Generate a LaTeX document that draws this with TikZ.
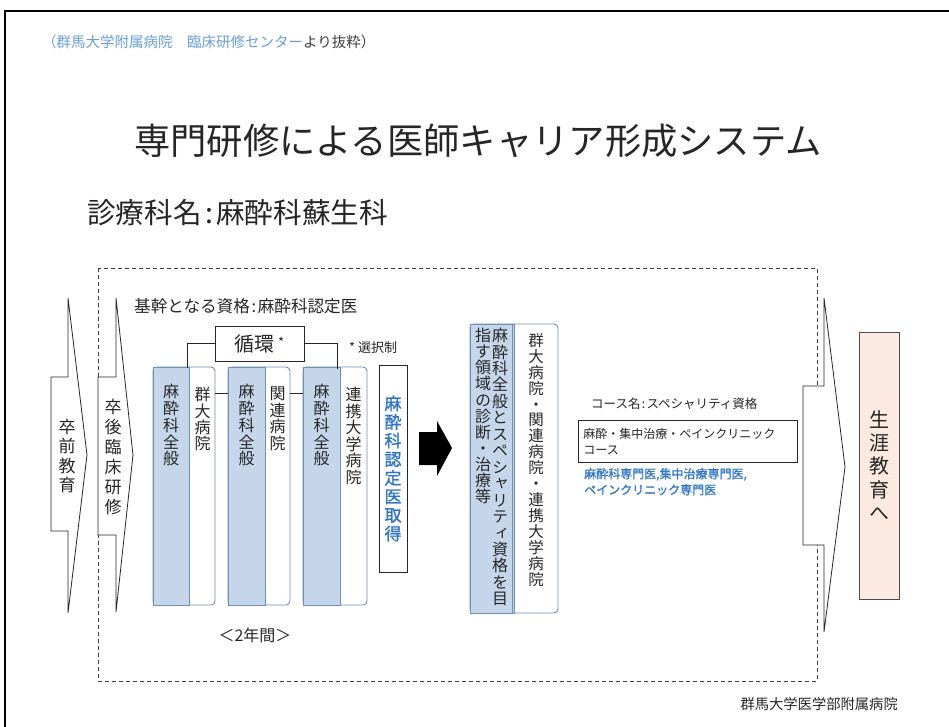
\documentclass[tikz,border=0pt]{standalone}
\usepackage{fontspec}
\setmainfont{Noto Sans CJK JP}
\newfontfamily\vfont{Noto Sans CJK JP}[RawFeature=+vert]
\newfontfamily\vbfont{Noto Sans CJK JP}[RawFeature=+vert,FakeBold=1.2]
\newfontfamily\bfam{Noto Sans CJK JP}[FakeBold=1.0]
\usetikzlibrary{calc}
\definecolor{bfill}{HTML}{C5D6EA}
\definecolor{bline}{HTML}{6F8FB8}
\definecolor{tblue}{HTML}{2E75C4}
\definecolor{nblue}{HTML}{6A9FD8}
\definecolor{peach}{HTML}{FCE9DF}
\definecolor{dgray}{HTML}{404040}
\lineskiplimit=-100pt
\newcommand\vsz[2]{\vfont\fontsize{#1}{#2}\selectfont}
\newcommand\hsz[2]{\fontsize{#1}{#2}\selectfont}
\tikzset{
  vt/.style={align=center, inner sep=0pt, anchor=north, text=black!85},
  shaft/.style={draw=black!85, fill=white, line width=0.8pt, line join=miter},
  grp/.style={draw=bline, fill=white, rounded corners=4pt, inner sep=0pt, minimum height=238, line width=0.9pt},
  bcol/.style={draw=bline, fill=bfill, inner sep=0pt, anchor=west, line width=0.9pt},
  conn/.style={draw=black!85, line width=0.9pt},
  plain/.style={inner sep=0pt, text=black!85},
}
\begin{document}
\begin{tikzpicture}[x=1pt,y=-1pt]
\useasboundingbox (0,0) rectangle (949,727);
\fill[white] (0,0) rectangle (949,727);
% outer frame
\draw[line width=2pt, black] (5,727) -- (5,11) -- (949,11);
% top note
\node[plain, anchor=west, font=\hsz{14.5}{16}] (note) at (42,42)
  {\textcolor{nblue}{（群馬大学附属病院　臨床研修センター}\textcolor{dgray}{より抜粋）}};
% title
\node[plain, font=\hsz{36.3}{40}] (title) at (478,141) {専門研修による医師キャリア形成システム};
\node[plain, anchor=west, font=\hsz{28.6}{30}] (dept) at (87,213) {診療科名\hspace{0.12em}:\hspace{0.12em}麻酔科蘇生科};
% dashed frame
\draw[dgray, line width=0.9pt, dash pattern=on 4pt off 3pt] (98,268) rectangle (817,681);
% left arrows
\draw[shaft] (51,377) -- (68,377) -- (68,298) -- (87,455) -- (68,613) -- (68,531) -- (51,531) -- cycle;
\node[vt, anchor=center, font=\vsz{17}{19.5}] (pre) at (67,456) {卒\\前\\教\\育};
\draw[shaft] (98,377) -- (116,377) -- (116,298) -- (133,455) -- (116,612) -- (116,535) -- (98,535) -- cycle;
\node[vt, anchor=center, font=\vsz{17}{20}] (post) at (113,457) {卒\\後\\臨\\床\\研\\修};
% right arrow
\draw[shaft] (803,386) -- (824,386) -- (824,298) -- (845,467) -- (824,632) -- (824,545) -- (803,545) -- cycle;
% lifelong box
\node[draw=black!70, fill=peach, line width=0.9pt, minimum width=40, minimum height=267, inner sep=0pt,
      align=center, font=\vsz{20}{23.4}, text=black!85] (life) at (879,465.5) {生\\涯\\教\\育\\へ};
% base qualification
\node[plain, anchor=west, font=\hsz{16.6}{18}] (base) at (134,306) {基幹となる資格\hspace{0.1em}:\hspace{0.1em}麻酔科認定医};
% rotation groups
\node[grp, minimum width=62] (g1) at (184,486) {};
\node[bcol, minimum width=36, minimum height=238] (b1) at (g1.west) {};
\node[grp, minimum width=62] (g2) at (259,486) {};
\node[bcol, minimum width=37, minimum height=238] (b2) at (g2.west) {};
\node[grp, minimum width=64] (g3) at (335,486) {};
\node[bcol, minimum width=37, minimum height=238] (b3) at (g3.west) {};
\node[vt, font=\vsz{16}{16.8}] (t1a) at (171,384) {麻\\酔\\科\\全\\般};
\node[vt, font=\vsz{16}{16.4}] (t1b) at (202.5,387) {群\\大\\病\\院};
\node[vt, font=\vsz{16}{16.8}] (t2a) at (246.5,384) {麻\\酔\\科\\全\\般};
\node[vt, font=\vsz{16}{16.4}] (t2b) at (277.5,387) {関\\連\\病\\院};
\node[vt, font=\vsz{16}{16.8}] (t3a) at (321.5,384) {麻\\酔\\科\\全\\般};
\node[vt, font=\vsz{16}{16.5}] (t3b) at (353.5,387) {連\\携\\大\\学\\病\\院};
% loop box
\node[draw=black!85, fill=white, line width=0.9pt, minimum width=89, minimum height=35, inner sep=0pt,
      font=\hsz{20}{22}, text=black!85] (loop) at (259.5,343.5) {循環\,{\hsz{13}{13}\raisebox{4pt}{*}}};
\coordinate (c1) at (187,368);
\coordinate (c3) at (337,369);
\coordinate (row) at (0,393);
\draw[conn] (loop.west) -| (c1);
\draw[conn] (loop.east) -| (c3);
\draw[conn] (g1.east |- row) -- (g2.west |- row);
\draw[conn] (g2.east |- row) -- (g3.west |- row);
\node[plain, anchor=west, font=\hsz{13}{15}] (sel) at (349,348) {* 選択制};
\node[plain, font=\hsz{16}{18}] (yrs) at (255,635) {＜2年間＞};
% certification box
\node[draw=black!85, fill=white, line width=0.9pt, minimum width=28, minimum height=207, inner sep=0pt,
      align=center, font=\vbfont\fontsize{17}{18.6}\selectfont, text=tblue] (cert) at (393,468.5) {麻\\酔\\科\\認\\定\\医\\取\\得};
% big black arrow
\fill[black] (419,432) -- (437,432) -- (437,421) -- (452,448) -- (437,476) -- (437,465) -- (419,465) -- cycle;
% specialty column
\node[grp, minimum width=88, minimum height=289] (g4) at (514,468.5) {};
\node[bcol, minimum width=44, minimum height=289] (b4) at (g4.west) {};
\draw[bline, line width=0.9pt] ($(b4.north east)+(-2,0)$) -- ($(b4.south east)+(-2,0)$);
\node[vt, font=\vsz{16}{16.45}] (t4a) at (500,328) {麻\\酔\\科\\全\\般\\と\\ス\\ペ\\シ\\ャ\\リ\\テ\\ィ\\資\\格\\を\\目};
\node[vt, font=\vsz{16}{16.1}] (t4b) at (483,328) {指\\す\\領\\域\\の\\診\\断\\・\\治\\療\\等};
\node[vt, font=\vsz{15.5}{15.95}] (t4c) at (536,333) {群\\大\\病\\院\\・\\関\\連\\病\\院\\・\\連\\携\\大\\学\\病\\院};
% course
\node[plain, anchor=west, font=\hsz{12.5}{14}] (ctitle) at (591,404) {コース名\hspace{0.1em}:\hspace{0.1em}スペシャリティ資格};
\node[draw=black!85, line width=0.9pt, anchor=north west, text width=209, align=left, inner xsep=5pt, inner ysep=3pt,
      minimum height=42, font=\hsz{12}{16.5}, text=black!85] (cbox) at (578,420) {麻酔・集中治療・ペインクリニック\\コース};
\node[anchor=north west, align=left, inner sep=0pt, text=tblue, font=\bfam\fontsize{12}{16}\selectfont] (cdocs) at (584,468)
  {麻酔科専門医,集中治療専門医,\\ペインクリニック専門医};
% footer
\node[plain, anchor=east, font=\hsz{14.3}{15}] (foot) at (898,704) {群馬大学医学部附属病院};
\end{tikzpicture}
\end{document}
